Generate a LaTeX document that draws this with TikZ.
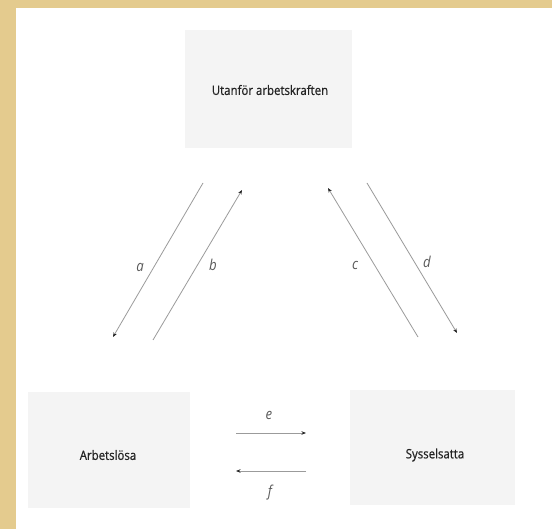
\documentclass[tikz,border=0pt]{standalone}
\usepackage{fontspec}
\setmainfont{Open Sans}[FakeStretch=0.88]
\newfontfamily\boxfont{Open Sans}[FakeStretch=0.88,FakeBold=0.6]
\usetikzlibrary{arrows.meta}
\definecolor{framecol}{RGB}{228,203,142}
\definecolor{boxgray}{RGB}{244,244,244}
\definecolor{linegray}{RGB}{155,155,155}
\definecolor{textcol}{RGB}{35,35,35}
\definecolor{labcol}{RGB}{90,90,90}
\begin{document}
\begin{tikzpicture}[x=1pt,y=-1pt,
  graybox/.style={draw=none,fill=boxgray,inner sep=0pt},
  boxtext/.style={text=textcol,font=\boxfont\fontsize{13}{15}\selectfont,inner sep=0pt},
  flowlab/.style={text=labcol,font=\fontsize{15}{17}\selectfont\itshape,inner sep=0pt},
  flow/.style={draw=linegray,line width=0.8pt,-{Stealth[length=4.5pt,width=3.5pt,color=textcol]}}]
\useasboundingbox (0,0) rectangle (552,529);
\fill[framecol] (0,0) rectangle (552,8);
\fill[framecol] (0,0) rectangle (16,529);
\fill[white] (16,8) rectangle (552,529);
% boxes
\node[graybox,minimum width=167pt,minimum height=118pt] (topbox) at (268.5,89) {};
\node[graybox,minimum width=162pt,minimum height=116pt] (leftbox) at (109,450) {};
\node[graybox,minimum width=165pt,minimum height=115pt] (rightbox) at (432.5,447.5) {};
\node[boxtext] (ut) at (270,90) {Utanför arbetskraften};
\node[boxtext] (arb) at (108,455) {Arbetslösa};
\node[boxtext] (sys) at (435,455) {Sysselsatta};
% diagonal flows
\coordinate (a1) at (203,183); \coordinate (a2) at (113,337);
\coordinate (b1) at (153,340); \coordinate (b2) at (242,190);
\coordinate (c1) at (418,337); \coordinate (c2) at (328,188);
\coordinate (d1) at (367,183); \coordinate (d2) at (457,333);
\draw[flow] (a1) -- (a2);
\draw[flow] (b1) -- (b2);
\draw[flow] (c1) -- (c2);
\draw[flow] (d1) -- (d2);
\node[flowlab] (la) at (140,267) {a};
\node[flowlab] (lb) at (213,265) {b};
\node[flowlab] (lc) at (355,265) {c};
\node[flowlab] (ld) at (427,262) {d};
% horizontal flows
\coordinate (e1) at (236,433); \coordinate (e2) at (306,433);
\coordinate (f1) at (306,471); \coordinate (f2) at (236,471);
\draw[flow] (e1) -- (e2);
\draw[flow] (f1) -- (f2);
\node[flowlab] (le) at (269,415) {e};
\node[flowlab] (lf) at (270,493) {f};
\end{tikzpicture}
\end{document}
